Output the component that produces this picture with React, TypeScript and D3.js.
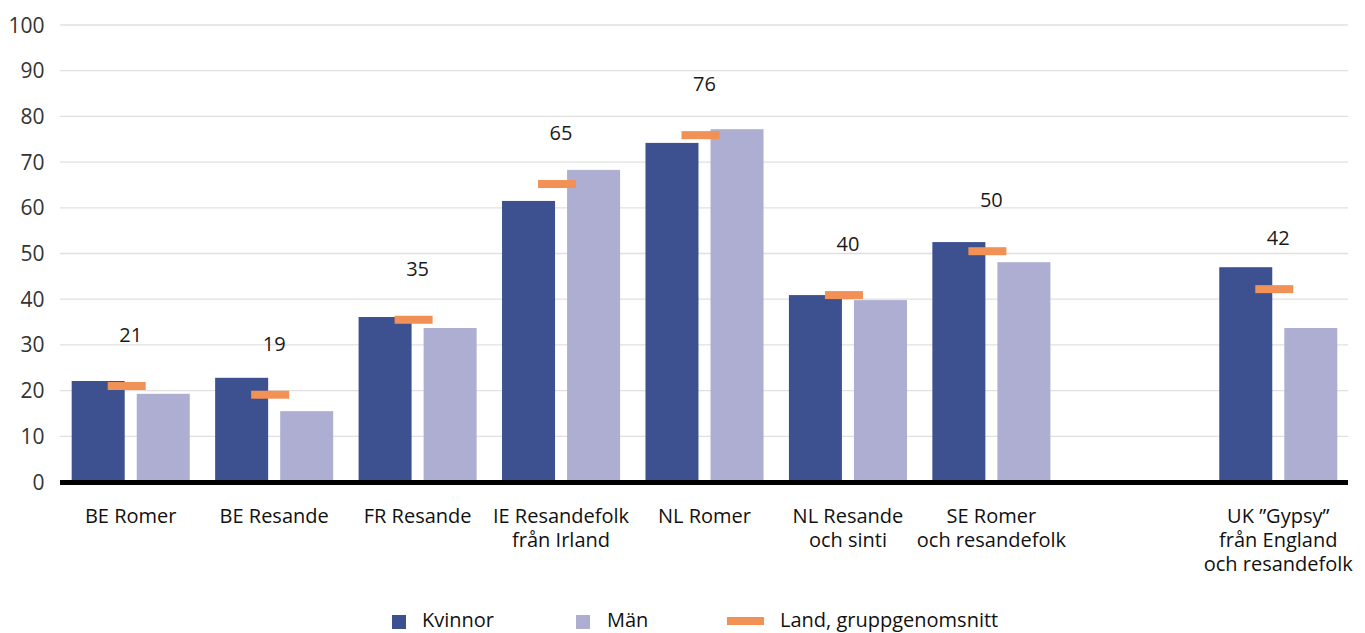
import React from 'react';
import * as d3 from 'd3';

// groups along the x axis (one empty slot before UK)
const groups = ['BE', 'BE2', 'FR', 'IE', 'NL', 'NL2', 'SE', 'gap', 'UK'];
const groupLabels = [
  ['BE Romer'],
  ['BE Resande'],
  ['FR Resande'],
  ['IE Resandefolk', 'från Irland'],
  ['NL Romer'],
  ['NL Resande', 'och sinti'],
  ['SE Romer', 'och resandefolk'],
  [],
  ['UK ”Gypsy”', 'från England', 'och resandefolk'],
];
const kvinnor = [22.1, 22.8, 36.1, 61.5, 74.2, 40.9, 52.5, null, 47.0];
const man = [19.3, 15.5, 33.7, 68.3, 77.2, 39.8, 48.1, null, 33.7];
const landAvg = [21.0, 19.1, 35.5, 65.2, 75.9, 40.9, 50.5, null, 42.2];
const landAvgLabels = ['21', '19', '35', '65', '76', '40', '50', '', '42'];
const yTicks = [0, 10, 20, 30, 40, 50, 60, 70, 80, 90, 100];

const series = ['Kvinnor', 'Män'];
const colors = { Kvinnor: '#3d5191', Män: '#adaed2', avg: '#f29155' };

const W = 1365;
const H = 633;
const FONT = '"Open Sans", sans-serif';

const App = () => {
  const x0 = d3.scaleBand<string>()
    .domain(groups)
    .range([59, 1350])
    .paddingInner(0.177)
    .paddingOuter(0.0885);

  const x1 = d3.scaleBand<string>()
    .domain(series)
    .range([0, x0.bandwidth()])
    .paddingInner(0.185);

  const y = d3.scaleLinear().domain([0, 100]).range([482, 25]);

  const values = { Kvinnor: kvinnor, Män: man };
  const mid = (g: string) => x0(g)! + x0.bandwidth() / 2;

  return (
    <svg width={W} height={H} style={{ position: 'absolute', left: 0, top: 0 }} fontFamily={FONT}>
      {/* grid */}
      {yTicks.map((t) => (
        <g key={t}>
          {t > 0 && <line x1={60} x2={1348} y1={y(t)} y2={y(t)} stroke="#e0e0e0" strokeWidth={1.3} />}
          <text x={44.5} y={y(t)} dy="0.36em" textAnchor="end" fontSize={21} fill="#333">{t}</text>
        </g>
      ))}

      {/* bars */}
      {groups.map((g, i) => (
        <g key={g} transform={`translate(${x0(g)},0)`}>
          {series.map((s) => {
            const v = values[s][i];
            if (v == null) return null;
            return (
              <rect key={s} x={x1(s)} y={y(v)} width={x1.bandwidth()} height={y(0) - y(v)} fill={colors[s]} />
            );
          })}
        </g>
      ))}

      {/* country average markers + labels */}
      {groups.map((g, i) => {
        const v = landAvg[i];
        if (v == null) return null;
        const cx = mid(g);
        return (
          <g key={g}>
            <rect x={cx - 4 - 19} y={y(v) - 4} width={38} height={8} fill={colors.avg} />
            <text x={cx} y={y(v) - 44} textAnchor="middle" fontSize={20} fill="#1a1a1a">{landAvgLabels[i]}</text>
          </g>
        );
      })}

      {/* baseline */}
      <line x1={60} x2={1348} y1={y(0) + 0.5} y2={y(0) + 0.5} stroke="#000" strokeWidth={5} />

      {/* x labels, one text per line */}
      {groups.map((g, i) =>
        groupLabels[i].map((line, j) => (
          <text key={`${g}-${j}`} x={mid(g)} y={523 + j * 24} textAnchor="middle" fontSize={20} fill="#111">
            {line}
          </text>
        ))
      )}

      {/* legend */}
      <g fontSize={20} fill="#111">
        <rect x={392} y={615} width={14} height={14} fill={colors.Kvinnor} />
        <text x={422} y={627}>Kvinnor</text>
        <rect x={576} y={615} width={14} height={14} fill={colors.Män} />
        <text x={607} y={627}>Män</text>
        <rect x={727} y={617} width={37} height={8} fill={colors.avg} />
        <text x={780} y={627}>Land, gruppgenomsnitt</text>
      </g>
    </svg>
  );
};

export default App;
